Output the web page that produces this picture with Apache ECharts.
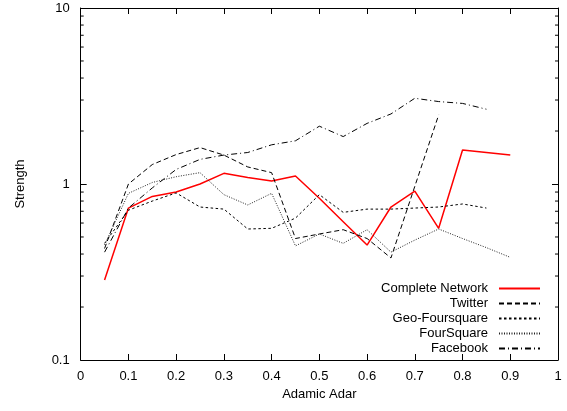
<!DOCTYPE html>
<html>
<head>
<meta charset="utf-8">
<script src="https://cdn.jsdelivr.net/npm/echarts@6/dist/echarts.min.js"></script>
<style>html,body{margin:0;padding:0;background:#fff}#c{width:567px;height:411px}</style>
</head>
<body>
<div id="c"></div>
<script>
var xTitle = 'Adamic Adar';
var yTitle = 'Strength';
var xs = [0.05,0.1,0.15,0.2,0.25,0.3,0.35,0.4,0.45,0.5,0.55,0.6,0.65,0.7,0.75,0.8,0.85,0.9];
var complete   = [0.285,0.73,0.85,0.9,1.0,1.15,1.09,1.04,1.11,0.83,0.61,0.45,0.74,0.91,0.56,1.56,1.51,1.46];
var twitter    = [0.43,1.0,1.29,1.47,1.61,1.46,1.25,1.16,0.49,0.52,0.55,0.49,0.38,0.97,2.47];
var geo        = [0.46,0.71,0.80,0.89,0.74,0.72,0.555,0.56,0.64,0.87,0.69,0.72,0.72,0.73,0.74,0.77,0.73];
var foursquare = [0.45,0.885,1.02,1.1,1.16,0.87,0.76,0.885,0.445,0.52,0.46,0.55,0.41,0.48,0.555,0.49,0.435,0.383];
var facebook   = [0.41,0.73,0.95,1.21,1.38,1.46,1.51,1.67,1.76,2.13,1.86,2.21,2.5,3.07,2.94,2.87,2.66];
var names = ['Complete Network','Twitter','Geo-Foursquare','FourSquare','Facebook'];
var minorTickValues = [0.2,0.3,0.4,0.5,0.6,0.7,0.8,0.9,2,3,4,5,6,7,8,9];

function pairs(arr){ return arr.map(function(v,i){ return [xs[i], v]; }); }

var FONT = "'Liberation Sans', Arial, Helvetica, sans-serif";
var chart = echarts.init(document.getElementById('c'), null, {renderer:'canvas'});

function lineSeries(name, data, color, width, dash){
  return {
    name: name, type: 'line', data: pairs(data), symbol: 'none', showSymbol: false,
    xAxisIndex: 0, yAxisIndex: 0, animation: false, silent: true,
    lineStyle: {color: color, width: width, type: dash},
    itemStyle: {color: color}
  };
}

var axisCommon = {
  axisLine: {show: true, onZero: false, lineStyle: {color: '#000', width: 1}},
  axisTick: {show: true, inside: true, length: 6, lineStyle: {color: '#000', width: 1}},
  splitLine: {show: false},
  axisLabel: {color: '#000', fontFamily: FONT, fontSize: 13}
};

var option = {
  backgroundColor: '#fff',
  animation: false,
  textStyle: {fontFamily: FONT},
  grid: {left: 80.7, right: 9, top: 8, bottom: 51, containLabel: false},
  xAxis: [
    Object.assign({}, JSON.parse(JSON.stringify(axisCommon)), {
      type: 'value', min: 0, max: 1, interval: 0.1, position: 'bottom',
      name: xTitle, nameLocation: 'middle', nameGap: 28,
      nameTextStyle: {color: '#000', fontFamily: FONT, fontSize: 13},
      axisLabel: {color: '#000', fontFamily: FONT, fontSize: 13, margin: 10}
    }),
    Object.assign({}, JSON.parse(JSON.stringify(axisCommon)), {
      type: 'value', min: 0, max: 1, interval: 0.1, position: 'top',
      axisLabel: {show: false}
    })
  ],
  yAxis: [
    Object.assign({}, JSON.parse(JSON.stringify(axisCommon)), {
      type: 'log', logBase: 10, min: 0.1, max: 10, position: 'left',
      name: yTitle, nameLocation: 'middle', nameGap: 54, nameRotate: 90,
      nameTextStyle: {color: '#000', fontFamily: FONT, fontSize: 13},
      axisLabel: {color: '#000', fontFamily: FONT, fontSize: 13, margin: 11,
        formatter: function(v){ return String(+v.toPrecision(3)); }}
    }),
    Object.assign({}, JSON.parse(JSON.stringify(axisCommon)), {
      type: 'log', logBase: 10, min: 0.1, max: 10, position: 'right',
      axisLabel: {show: false}
    })
  ],
  legend: {
    data: names, orient: 'vertical', right: 21, top: 276, align: 'right',
    itemWidth: 41, itemHeight: 10, itemGap: 0,
    itemStyle: {opacity: 0},
    textStyle: {color: '#000', fontFamily: FONT, fontSize: 13, lineHeight: 15, padding: [0, 6, 0, 0]},
    selectedMode: false
  },
  series: [
    lineSeries(names[0], complete, '#ff0000', 1.5, 'solid'),
    lineSeries(names[1], twitter, '#000', 1, [5, 3]),
    lineSeries(names[2], geo, '#000', 1, [2.5, 2.5]),
    lineSeries(names[3], foursquare, '#222', 1, [1, 1.5]),
    lineSeries(names[4], facebook, '#000', 1, [6, 3, 1, 3]),
    {
      type: 'custom', name: 'minorTicks', silent: true, animation: false,
      xAxisIndex: 0, yAxisIndex: 0, clip: false,
      data: minorTickValues.map(function(v){ return [0, v]; }),
      renderItem: function(params, api){
        var v = api.value(1);
        var l = api.coord([0, v]);
        var r = api.coord([1, v]);
        return {type: 'group', children: [
          {type: 'line', shape: {x1: l[0], y1: l[1], x2: l[0] + 3, y2: l[1]}, style: {stroke: '#000', lineWidth: 1}},
          {type: 'line', shape: {x1: r[0], y1: r[1], x2: r[0] - 3, y2: r[1]}, style: {stroke: '#000', lineWidth: 1}}
        ]};
      }
    }
  ]
};
chart.setOption(option);
</script>
</body>
</html>
